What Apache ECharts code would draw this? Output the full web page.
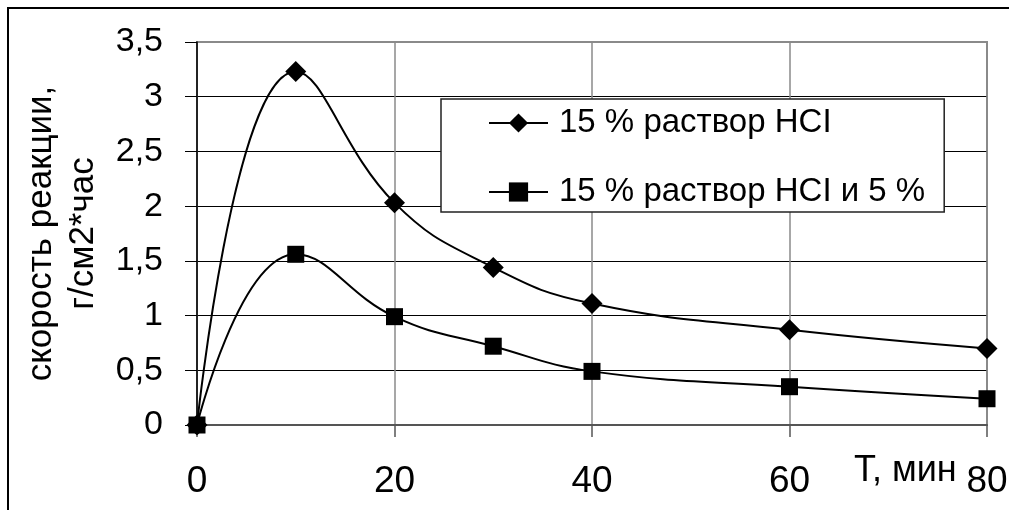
<!DOCTYPE html>
<html>
<head>
<meta charset="utf-8">
<script src="https://cdn.jsdelivr.net/npm/echarts@6/dist/echarts.min.js"></script>
<style>
  html, body { margin: 0; padding: 0; background: #fff; }
  #chart { width: 1009px; height: 510px; }
</style>
</head>
<body>
<div id="chart"></div>
<script>
// Time, minutes
const timeMin = [0, 10, 20, 30, 40, 60, 80];
// Reaction rate, g/cm2*h
const rateHcl15 = [0, 3.23, 2.03, 1.44, 1.11, 0.87, 0.70];
const rateHcl15Plus5 = [0, 1.56, 0.99, 0.72, 0.49, 0.35, 0.24];

const seriesNames = ['15 % раствор HCI', '15 % раствор HCI и 5 %'];
const xAxisTitle = 'T, мин';
const yAxisTitle = 'скорость реакции,\nг/см2*час';

const FONT = '"Liberation Sans", Arial, sans-serif';

function pairs(xs, ys) {
  return xs.map((x, i) => [x, ys[i]]);
}

const chart = echarts.init(document.getElementById('chart'), null, { renderer: 'canvas' });

chart.setOption({
  backgroundColor: '#fff',
  animation: false,
  textStyle: { fontFamily: FONT, color: '#000' },
  graphic: [{
    type: 'rect',
    z: -10,
    shape: { x: 8, y: 8, width: 1200, height: 700 },
    style: { fill: 'none', stroke: '#000', lineWidth: 2 }
  }],
  grid: {
    left: 197, right: 22, top: 42, bottom: 85,
    containLabel: false,
    outerBoundsMode: 'none',
    show: true, borderColor: '#8a8a8a', borderWidth: 2, backgroundColor: 'transparent'
  },
  legend: {
    left: 441, top: 99,
    orient: 'vertical',
    itemWidth: 59, itemHeight: 24, itemGap: 33,
    padding: [6, 19, 2, 47],
    backgroundColor: '#fff',
    borderColor: '#222', borderWidth: 1.5,
    textStyle: { fontFamily: FONT, fontSize: 33, color: '#000', lineHeight: 36, padding: [0, 0, 0, 6] },
    data: seriesNames,
    z: 10
  },
  xAxis: {
    type: 'value',
    min: 0, max: 80, interval: 20,
    name: xAxisTitle,
    nameLocation: 'end',
    nameGap: -133,
    nameMoveOverlap: false,
    nameTextStyle: { fontFamily: FONT, fontSize: 36, color: '#000', align: 'left', verticalAlign: 'top', padding: [28, 0, 0, 0] },
    axisLine: { show: true, onZero: false, lineStyle: { color: '#555', width: 2 } },
    axisTick: { show: true, length: 12, lineStyle: { color: '#555', width: 1.5 } },
    axisLabel: { fontFamily: FONT, fontSize: 37, color: '#000', margin: 38 },
    splitLine: { show: true, lineStyle: { color: '#8a8a8a', width: 1.5 } }
  },
  yAxis: {
    type: 'value',
    min: 0, max: 3.5, interval: 0.5,
    name: yAxisTitle,
    nameLocation: 'middle',
    nameRotate: 90,
    nameGap: 90,
    nameTextStyle: { fontFamily: FONT, fontSize: 35, color: '#000', lineHeight: 42, align: 'center' },
    axisLine: { show: true, lineStyle: { color: '#000', width: 1.5 } },
    axisTick: { show: true, length: 12, lineStyle: { color: '#000', width: 1 } },
    axisLabel: {
      fontFamily: FONT, fontSize: 34, color: '#000', margin: 34,
      formatter: v => String(v).replace('.', ',')
    },
    splitLine: {
      show: true,
      lineStyle: { color: ['#000', '#000', '#000', '#000', '#000', '#000', '#000', '#8a8a8a'], width: 1.2 }
    }
  },
  series: [
    {
      name: seriesNames[0],
      type: 'line',
      smooth: 0.45,
      data: pairs(timeMin, rateHcl15),
      symbol: 'diamond',
      symbolSize: 21,
      itemStyle: { color: '#000' },
      lineStyle: { color: '#000', width: 2 },
      z: 3
    },
    {
      name: seriesNames[1],
      type: 'line',
      smooth: 0.45,
      data: pairs(timeMin, rateHcl15Plus5),
      symbol: 'rect',
      symbolSize: 17,
      itemStyle: { color: '#000' },
      lineStyle: { color: '#000', width: 2 },
      z: 3
    }
  ]
});
</script>
</body>
</html>
